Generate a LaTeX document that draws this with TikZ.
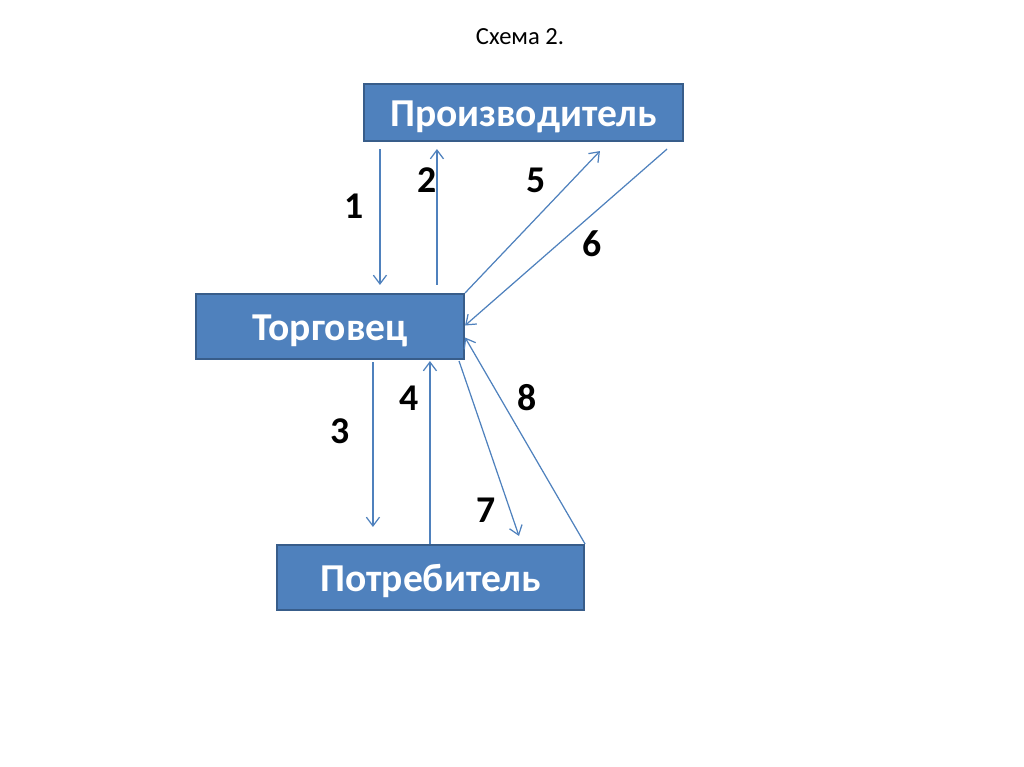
\documentclass[tikz,border=0pt]{standalone}
\usepackage{fontspec}
\setmainfont{Carlito}
\usetikzlibrary{calc,arrows.meta}
\definecolor{boxfill}{HTML}{4F81BD}
\definecolor{boxline}{HTML}{385D8A}
\tikzset{
  party/.style={draw=boxline, line width=1.2pt, fill=boxfill, text=white,
    font=\fontsize{22.5}{26}\selectfont\bfseries, inner sep=0pt, anchor=center,
    text height=15.5pt, text depth=0pt},
  flow/.style={draw=boxfill, line width=0.7pt,
    -{Straight Barb[length=5pt,width=7.5pt]}},
  num/.style={font=\fontsize{21.5}{24}\selectfont\bfseries}
}
\begin{document}
\begin{tikzpicture}[x=0.02cm,y=-0.02cm]
  \useasboundingbox (0,0) rectangle (1024,767);
  \node (title) at (520,37) {\fontsize{14}{17}\selectfont Схема 2.};
  \node[party, minimum width=319*0.02cm, minimum height=57*0.02cm] (prod) at (523.5,112.5) {Производитель};
  \node[party, minimum width=268*0.02cm, minimum height=65*0.02cm] (torg) at (330,326.5) {Торговец};
  \node[party, minimum width=307*0.02cm, minimum height=65*0.02cm] (potr) at (430.5,577.5) {Потребитель};
  % producer <-> trader
  \draw[flow] ($(prod.south west)+(17,7)$) -- ($(torg.north west)+(185,-8)$);
  \draw[flow] ($(torg.north west)+(242,-8)$) -- ($(prod.south west)+(74,7)$);
  \draw[flow] (torg.north east) -- ($(prod.south west)+(237,9)$);
  \draw[flow] ($(prod.south east)+(-17,7)$) -- ($(torg.east)+(0,-1)$);
  % trader <-> consumer
  \draw[flow] ($(torg.south west)+(178,2)$) -- ($(potr.north west)+(97,-17)$);
  \draw[flow] ($(potr.north west)+(154,0)$) -- ($(torg.south west)+(235,1)$);
  \draw[flow] ($(torg.south east)+(-6,1)$) -- ($(potr.north west)+(243,-8)$);
  \draw[flow] (potr.north east) -- ($(torg.east)+(0,11)$);
  % labels
  \node[num] (n1) at (354,206) {1};
  \node[num] (n2) at (427,180) {2};
  \node[num] (n5) at (536,180) {5};
  \node[num] (n6) at (592,244) {6};
  \node[num] (n3) at (340,431) {3};
  \node[num] (n4) at (409,398) {4};
  \node[num] (n8) at (527,398) {8};
  \node[num] (n7) at (486,510) {7};
\end{tikzpicture}
\end{document}
